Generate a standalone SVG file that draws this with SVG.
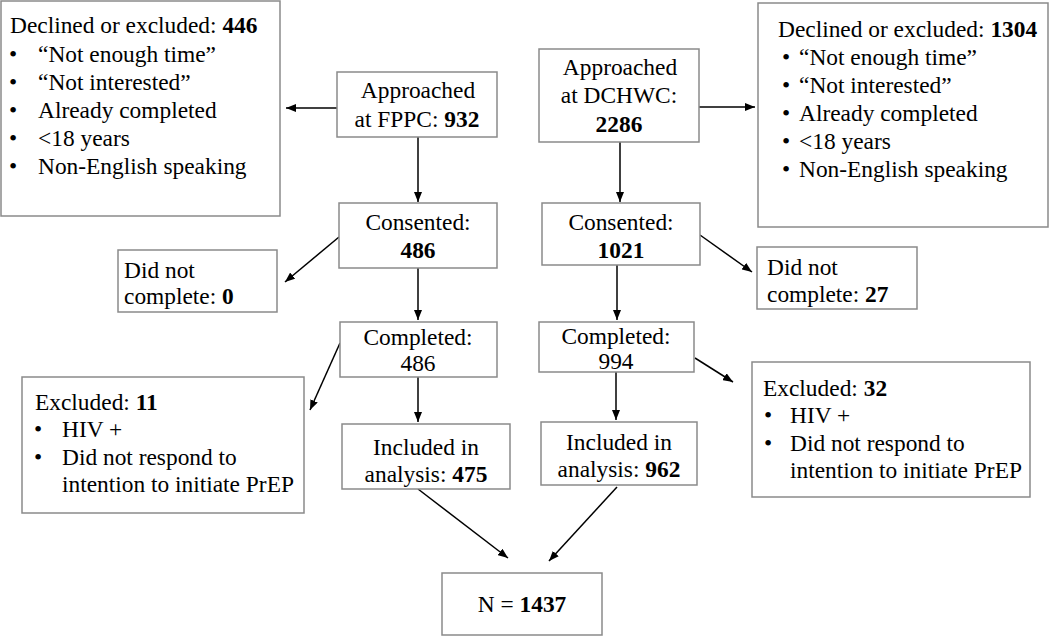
<svg xmlns="http://www.w3.org/2000/svg" width="1050" height="636" viewBox="0 0 1050 636">
<style>
rect.box{fill:#fff;stroke:#8a8a8a;stroke-width:1.5}
text{font-family:"Liberation Serif","Times New Roman",serif;font-size:23.4px;fill:#000}
.c{text-anchor:middle}
.b{font-weight:bold}
#connectors line{stroke:#000;stroke-width:1.5;marker-end:url(#ah)}
</style>
<defs>
<marker id="ah" markerUnits="userSpaceOnUse" markerWidth="10" markerHeight="8" refX="10" refY="4" orient="auto">
<path d="M0,0 L10,4 L0,8 z" fill="#000"/>
</marker>
</defs>
<rect width="1050" height="636" fill="#fff"/>
<g id="connectors">
<line x1="337" y1="108" x2="286" y2="108"/>
<line x1="418" y1="137" x2="418" y2="202"/>
<line x1="339" y1="237" x2="285" y2="282"/>
<line x1="418" y1="268" x2="418" y2="320"/>
<line x1="340" y1="343" x2="310" y2="410"/>
<line x1="418" y1="377" x2="418" y2="422"/>
<line x1="418" y1="489" x2="508" y2="558"/>
<line x1="699" y1="107" x2="755" y2="107"/>
<line x1="620" y1="142" x2="620" y2="202"/>
<line x1="700" y1="235" x2="752" y2="272"/>
<line x1="617" y1="265" x2="617" y2="320"/>
<line x1="695" y1="358" x2="733" y2="382"/>
<line x1="616" y1="372" x2="616" y2="420"/>
<line x1="617" y1="487" x2="549" y2="561"/>
</g>
<g id="declined-fppc">
<rect class="box" x="1" y="1" width="279" height="215"/>
<text x="10" y="33">Declined or excluded: <tspan class="b">446</tspan></text>
<text x="9" y="62">•</text><text x="38" y="62">“Not enough time”</text>
<text x="9" y="90">•</text><text x="38" y="90">“Not interested”</text>
<text x="9" y="118">•</text><text x="38" y="118">Already completed</text>
<text x="9" y="146">•</text><text x="38" y="146">&lt;18 years</text>
<text x="9" y="174">•</text><text x="38" y="174">Non-English speaking</text>
</g>
<g id="approached-fppc">
<rect class="box" x="337" y="72" width="160" height="65"/>
<text class="c" x="418" y="98">Approached</text>
<text class="c" x="417" y="127">at FPPC: <tspan class="b">932</tspan></text>
</g>
<g id="approached-dchwc">
<rect class="box" x="539" y="49" width="160" height="93"/>
<text class="c" x="620" y="75">Approached</text>
<text class="c" x="619" y="103">at DCHWC:</text>
<text class="c b" x="619" y="132">2286</text>
</g>
<g id="declined-dchwc">
<rect class="box" x="758" y="3" width="290" height="224"/>
<text x="778" y="37">Declined or excluded: <tspan class="b">1304</tspan></text>
<text x="782" y="65">•</text><text x="799" y="65">“Not enough time”</text>
<text x="782" y="93">•</text><text x="799" y="93">“Not interested”</text>
<text x="782" y="121">•</text><text x="799" y="121">Already completed</text>
<text x="782" y="149">•</text><text x="799" y="149">&lt;18 years</text>
<text x="782" y="177">•</text><text x="799" y="177">Non-English speaking</text>
</g>
<g id="consented-fppc">
<rect class="box" x="339" y="203" width="158" height="65"/>
<text class="c" x="418" y="230">Consented:</text>
<text class="c b" x="418" y="258">486</text>
</g>
<g id="consented-dchwc">
<rect class="box" x="542" y="203" width="158" height="62"/>
<text class="c" x="621" y="230">Consented:</text>
<text class="c b" x="621" y="258">1021</text>
</g>
<g id="dnc-fppc">
<rect class="box" x="118" y="250" width="159" height="62"/>
<text x="124" y="278">Did not</text>
<text x="124" y="304">complete: <tspan class="b">0</tspan></text>
</g>
<g id="dnc-dchwc">
<rect class="box" x="757" y="247" width="160" height="62"/>
<text x="767" y="275">Did not</text>
<text x="767" y="302">complete: <tspan class="b">27</tspan></text>
</g>
<g id="completed-fppc">
<rect class="box" x="340" y="322" width="157" height="55"/>
<text class="c" x="418" y="345">Completed:</text>
<text class="c" x="418" y="371">486</text>
</g>
<g id="completed-dchwc">
<rect class="box" x="539" y="322" width="155" height="50"/>
<text class="c" x="616" y="344">Completed:</text>
<text class="c" x="616" y="369">994</text>
</g>
<g id="excluded-fppc">
<rect class="box" x="22" y="377" width="282" height="136"/>
<text x="35" y="410">Excluded: <tspan class="b">11</tspan></text>
<text x="34" y="437">•</text><text x="62" y="437">HIV +</text>
<text x="34" y="465">•</text><text x="62" y="465">Did not respond to</text>
<text x="62" y="492">intention to initiate PrEP</text>
</g>
<g id="excluded-dchwc">
<rect class="box" x="752" y="362" width="278" height="135"/>
<text x="763" y="396">Excluded: <tspan class="b">32</tspan></text>
<text x="764" y="423">•</text><text x="790" y="423">HIV +</text>
<text x="764" y="451">•</text><text x="790" y="451">Did not respond to</text>
<text x="790" y="478">intention to initiate PrEP</text>
</g>
<g id="included-fppc">
<rect class="box" x="342" y="424" width="168" height="65"/>
<text class="c" x="426" y="455">Included in</text>
<text class="c" x="426" y="482">analysis: <tspan class="b">475</tspan></text>
</g>
<g id="included-dchwc">
<rect class="box" x="541" y="422" width="156" height="63"/>
<text class="c" x="619" y="450">Included in</text>
<text class="c" x="619" y="477">analysis: <tspan class="b">962</tspan></text>
</g>
<g id="total">
<rect class="box" x="442" y="573" width="160" height="62"/>
<text class="c" x="522" y="612">N = <tspan class="b">1437</tspan></text>
</g>
</svg>
